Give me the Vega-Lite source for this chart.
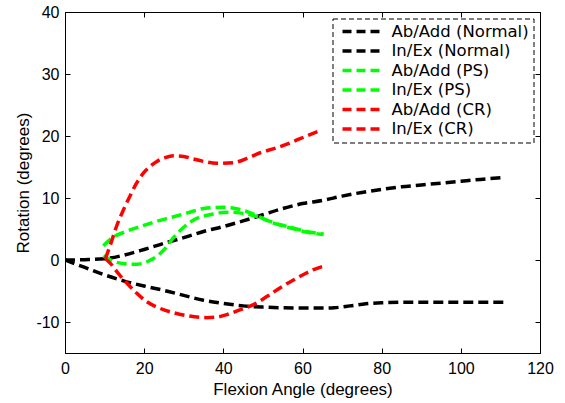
{
  "$schema": "https://vega.github.io/schema/vega-lite/v6.json",
  "width": 475,
  "height": 341,
  "autosize": {"type": "none"},
  "padding": {"left": 65, "top": 12, "right": 25, "bottom": 50},
  "background": "white",
  "config": {
    "view": {"stroke": "black", "strokeWidth": 1},
    "font": "Liberation Sans",
    "axis": {
      "domainColor": "black",
      "tickColor": "black",
      "labelColor": "black",
      "titleColor": "black",
      "grid": false,
      "labelFontSize": 16,
      "titleFontSize": 17,
      "titleFontWeight": "normal",
      "labelFlush": false,
      "labelOverlap": false,
      "tickSize": -5
    }
  },
  "data": {
    "values": [
      {"series": "Ab/Add (Normal)", "x": 0, "y": 0},
      {"series": "Ab/Add (Normal)", "x": 5, "y": 0.05},
      {"series": "Ab/Add (Normal)", "x": 10, "y": 0.2},
      {"series": "Ab/Add (Normal)", "x": 15, "y": 0.8},
      {"series": "Ab/Add (Normal)", "x": 20, "y": 1.7},
      {"series": "Ab/Add (Normal)", "x": 25, "y": 2.7},
      {"series": "Ab/Add (Normal)", "x": 30, "y": 3.6},
      {"series": "Ab/Add (Normal)", "x": 35, "y": 4.6},
      {"series": "Ab/Add (Normal)", "x": 40, "y": 5.4},
      {"series": "Ab/Add (Normal)", "x": 45, "y": 6.3},
      {"series": "Ab/Add (Normal)", "x": 50, "y": 7.3},
      {"series": "Ab/Add (Normal)", "x": 55, "y": 8.3},
      {"series": "Ab/Add (Normal)", "x": 60, "y": 9.1},
      {"series": "Ab/Add (Normal)", "x": 65, "y": 9.6},
      {"series": "Ab/Add (Normal)", "x": 70, "y": 10.3},
      {"series": "Ab/Add (Normal)", "x": 75, "y": 10.9},
      {"series": "Ab/Add (Normal)", "x": 80, "y": 11.4},
      {"series": "Ab/Add (Normal)", "x": 85, "y": 11.8},
      {"series": "Ab/Add (Normal)", "x": 90, "y": 12.1},
      {"series": "Ab/Add (Normal)", "x": 95, "y": 12.4},
      {"series": "Ab/Add (Normal)", "x": 100, "y": 12.7},
      {"series": "Ab/Add (Normal)", "x": 105, "y": 13},
      {"series": "Ab/Add (Normal)", "x": 111, "y": 13.3},

      {"series": "In/Ex (Normal)", "x": 0, "y": 0},
      {"series": "In/Ex (Normal)", "x": 5, "y": -1.2},
      {"series": "In/Ex (Normal)", "x": 10, "y": -2.4},
      {"series": "In/Ex (Normal)", "x": 15, "y": -3.4},
      {"series": "In/Ex (Normal)", "x": 20, "y": -4.2},
      {"series": "In/Ex (Normal)", "x": 25, "y": -4.9},
      {"series": "In/Ex (Normal)", "x": 30, "y": -5.7},
      {"series": "In/Ex (Normal)", "x": 35, "y": -6.5},
      {"series": "In/Ex (Normal)", "x": 40, "y": -7},
      {"series": "In/Ex (Normal)", "x": 45, "y": -7.4},
      {"series": "In/Ex (Normal)", "x": 50, "y": -7.6},
      {"series": "In/Ex (Normal)", "x": 55, "y": -7.7},
      {"series": "In/Ex (Normal)", "x": 60, "y": -7.75},
      {"series": "In/Ex (Normal)", "x": 65, "y": -7.75},
      {"series": "In/Ex (Normal)", "x": 68, "y": -7.7},
      {"series": "In/Ex (Normal)", "x": 72, "y": -7.4},
      {"series": "In/Ex (Normal)", "x": 76, "y": -7.05},
      {"series": "In/Ex (Normal)", "x": 80, "y": -6.9},
      {"series": "In/Ex (Normal)", "x": 90, "y": -6.8},
      {"series": "In/Ex (Normal)", "x": 100, "y": -6.8},
      {"series": "In/Ex (Normal)", "x": 111, "y": -6.8},

      {"series": "Ab/Add (PS)", "x": 9.7, "y": 2.3},
      {"series": "Ab/Add (PS)", "x": 12, "y": 3.6},
      {"series": "Ab/Add (PS)", "x": 15, "y": 4.5},
      {"series": "Ab/Add (PS)", "x": 19, "y": 5.4},
      {"series": "Ab/Add (PS)", "x": 23, "y": 6.2},
      {"series": "Ab/Add (PS)", "x": 27, "y": 6.9},
      {"series": "Ab/Add (PS)", "x": 31, "y": 7.6},
      {"series": "Ab/Add (PS)", "x": 35, "y": 8.3},
      {"series": "Ab/Add (PS)", "x": 40, "y": 8.5},
      {"series": "Ab/Add (PS)", "x": 43, "y": 8.3},
      {"series": "Ab/Add (PS)", "x": 46, "y": 7.8},
      {"series": "Ab/Add (PS)", "x": 49, "y": 7},
      {"series": "Ab/Add (PS)", "x": 52, "y": 6.1},
      {"series": "Ab/Add (PS)", "x": 55, "y": 5.5},
      {"series": "Ab/Add (PS)", "x": 58, "y": 5},
      {"series": "Ab/Add (PS)", "x": 61, "y": 4.5},
      {"series": "Ab/Add (PS)", "x": 63, "y": 4.3},
      {"series": "Ab/Add (PS)", "x": 65.3, "y": 4.1},

      {"series": "In/Ex (PS)", "x": 9.7, "y": 0.7},
      {"series": "In/Ex (PS)", "x": 12.2, "y": -0.2},
      {"series": "In/Ex (PS)", "x": 15, "y": -0.6},
      {"series": "In/Ex (PS)", "x": 18, "y": -0.7},
      {"series": "In/Ex (PS)", "x": 21, "y": -0.2},
      {"series": "In/Ex (PS)", "x": 23.2, "y": 0.6},
      {"series": "In/Ex (PS)", "x": 25.5, "y": 2},
      {"series": "In/Ex (PS)", "x": 27.4, "y": 3.6},
      {"series": "In/Ex (PS)", "x": 29.5, "y": 5},
      {"series": "In/Ex (PS)", "x": 31.6, "y": 6.1},
      {"series": "In/Ex (PS)", "x": 34, "y": 6.9},
      {"series": "In/Ex (PS)", "x": 36.6, "y": 7.3},
      {"series": "In/Ex (PS)", "x": 39, "y": 7.6},
      {"series": "In/Ex (PS)", "x": 41.7, "y": 7.7},
      {"series": "In/Ex (PS)", "x": 44, "y": 7.6},
      {"series": "In/Ex (PS)", "x": 46, "y": 7.4},
      {"series": "In/Ex (PS)", "x": 49, "y": 6.9},
      {"series": "In/Ex (PS)", "x": 52, "y": 6.2},
      {"series": "In/Ex (PS)", "x": 55, "y": 5.6},
      {"series": "In/Ex (PS)", "x": 58, "y": 5.1},
      {"series": "In/Ex (PS)", "x": 61, "y": 4.6},
      {"series": "In/Ex (PS)", "x": 65.3, "y": 4.2},

      {"series": "Ab/Add (CR)", "x": 10.2, "y": 0.2},
      {"series": "Ab/Add (CR)", "x": 11.5, "y": 2.5},
      {"series": "Ab/Add (CR)", "x": 13, "y": 5.4},
      {"series": "Ab/Add (CR)", "x": 14.7, "y": 8},
      {"series": "Ab/Add (CR)", "x": 16.4, "y": 10.3},
      {"series": "Ab/Add (CR)", "x": 18, "y": 12.3},
      {"series": "Ab/Add (CR)", "x": 19.8, "y": 14},
      {"series": "Ab/Add (CR)", "x": 21.5, "y": 15.1},
      {"series": "Ab/Add (CR)", "x": 23.2, "y": 15.9},
      {"series": "Ab/Add (CR)", "x": 25.3, "y": 16.5},
      {"series": "Ab/Add (CR)", "x": 27.4, "y": 16.8},
      {"series": "Ab/Add (CR)", "x": 30, "y": 16.7},
      {"series": "Ab/Add (CR)", "x": 32.4, "y": 16.3},
      {"series": "Ab/Add (CR)", "x": 35, "y": 15.9},
      {"series": "Ab/Add (CR)", "x": 38.3, "y": 15.6},
      {"series": "Ab/Add (CR)", "x": 42.5, "y": 15.7},
      {"series": "Ab/Add (CR)", "x": 46, "y": 16.4},
      {"series": "Ab/Add (CR)", "x": 49.3, "y": 17.3},
      {"series": "Ab/Add (CR)", "x": 53, "y": 18},
      {"series": "Ab/Add (CR)", "x": 57.7, "y": 19.1},
      {"series": "Ab/Add (CR)", "x": 61, "y": 20},
      {"series": "Ab/Add (CR)", "x": 64.9, "y": 21},

      {"series": "In/Ex (CR)", "x": 10.2, "y": 0.2},
      {"series": "In/Ex (CR)", "x": 11.4, "y": -0.5},
      {"series": "In/Ex (CR)", "x": 13.5, "y": -2.2},
      {"series": "In/Ex (CR)", "x": 15.6, "y": -3.7},
      {"series": "In/Ex (CR)", "x": 18, "y": -5.3},
      {"series": "In/Ex (CR)", "x": 20.6, "y": -6.7},
      {"series": "In/Ex (CR)", "x": 24, "y": -7.8},
      {"series": "In/Ex (CR)", "x": 27.4, "y": -8.5},
      {"series": "In/Ex (CR)", "x": 31, "y": -9},
      {"series": "In/Ex (CR)", "x": 35.8, "y": -9.3},
      {"series": "In/Ex (CR)", "x": 38.5, "y": -9.2},
      {"series": "In/Ex (CR)", "x": 40.9, "y": -8.8},
      {"series": "In/Ex (CR)", "x": 44, "y": -8.1},
      {"series": "In/Ex (CR)", "x": 47.6, "y": -7.2},
      {"series": "In/Ex (CR)", "x": 51, "y": -5.9},
      {"series": "In/Ex (CR)", "x": 54.3, "y": -4.5},
      {"series": "In/Ex (CR)", "x": 57.5, "y": -3.3},
      {"series": "In/Ex (CR)", "x": 61, "y": -2.1},
      {"series": "In/Ex (CR)", "x": 63, "y": -1.5},
      {"series": "In/Ex (CR)", "x": 65.3, "y": -1}
    ]
  },
  "resolve": {"axis": {"x": "independent", "y": "independent"}},
  "layer": [
    {
      "mark": {"type": "line", "strokeDash": [10, 5], "strokeWidth": 3.5, "clip": true, "interpolate": "monotone"},
      "encoding": {
        "x": {
          "field": "x", "type": "quantitative",
          "scale": {"domain": [0, 120], "nice": false, "zero": false},
          "axis": {"orient": "bottom", "values": [0, 20, 40, 60, 80, 100, 120], "labelExpr": "'' + datum.value", "title": "Flexion Angle (degrees)", "labelPadding": 12, "titlePadding": 5}
        },
        "y": {
          "field": "y", "type": "quantitative",
          "scale": {"domain": [-15, 40], "nice": false, "zero": false},
          "axis": {"orient": "left", "values": [-10, 0, 10, 20, 30, 40], "labelExpr": "'' + datum.value", "title": "Rotation (degrees)", "labelPadding": 11, "titlePadding": 3}
        },
        "color": {
          "field": "series", "type": "nominal",
          "scale": {
            "domain": ["Ab/Add (Normal)", "In/Ex (Normal)", "Ab/Add (PS)", "In/Ex (PS)", "Ab/Add (CR)", "In/Ex (CR)"],
            "range": ["#000000", "#000000", "#00FF00", "#00FF00", "#FF0000", "#FF0000"]
          },
          "legend": {
            "title": null,
            "orient": "none",
            "legendX": 267.5,
            "legendY": 6.5,
            "symbolType": "stroke",
            "symbolSize": 1369,
            "symbolStrokeWidth": 3.5,
            "symbolDash": [9, 5],
            "symbolOffset": 4,
            "labelOffset": 10,
            "labelFont": "DejaVu Sans",
            "labelFontSize": 16.5,
            "labelColor": "black",
            "clipHeight": 18,
            "rowPadding": 1.5,
            "padding": 4,
            "strokeColor": "black",
            "fillColor": "white",
            "labelLimit": 300,
            "encode": {"legend": {"update": {"strokeDash": {"value": [5, 3]}, "strokeWidth": {"value": 1}}}}
          }
        }
      }
    },
    {
      "mark": {"type": "line", "opacity": 0},
      "encoding": {
        "x": {
          "field": "x", "type": "quantitative",
          "axis": {"orient": "top", "values": [0, 20, 40, 60, 80, 100, 120], "labels": false, "title": null}
        },
        "y": {
          "field": "y", "type": "quantitative",
          "axis": {"orient": "right", "values": [-10, 0, 10, 20, 30, 40], "labels": false, "title": null}
        },
        "detail": {"field": "series"}
      }
    }
  ]
}
